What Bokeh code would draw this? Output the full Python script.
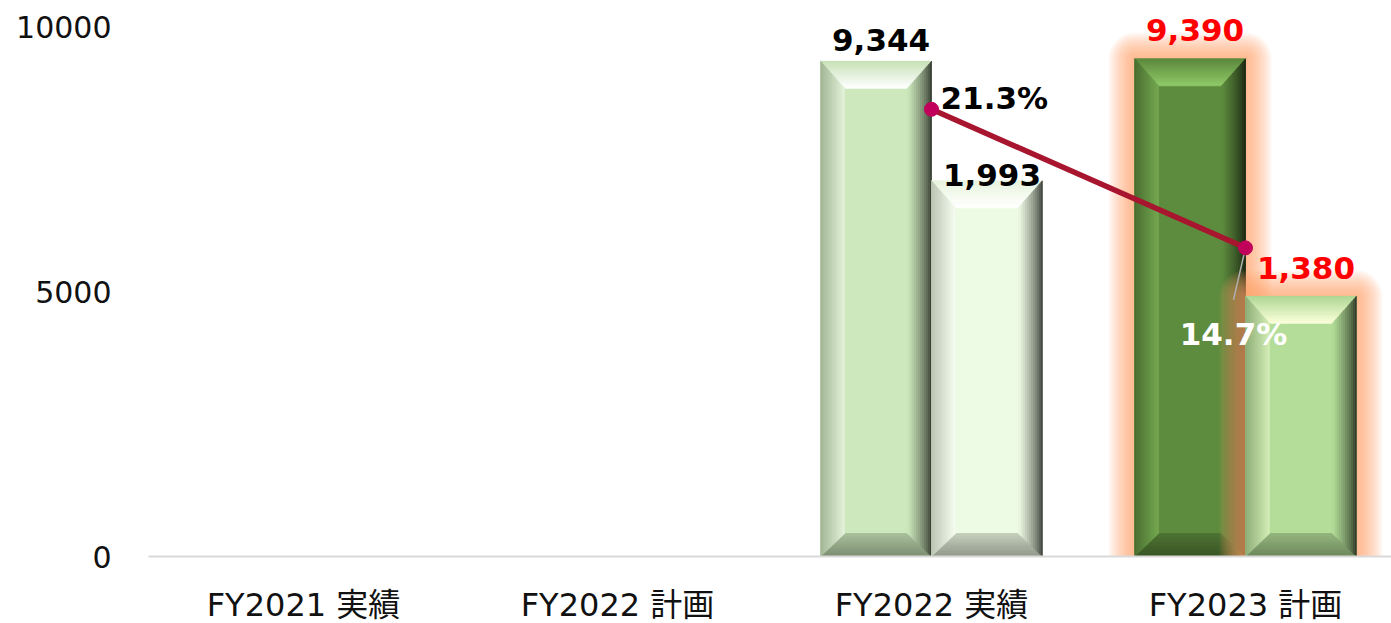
from bokeh.plotting import figure
from bokeh.models import Range1d, FixedTicker
from bokeh.core.properties import value
from bokeh.embed import file_html
from bokeh.resources import INLINE

# ---------------- data ----------------
categories = ["FY2021 実績", "FY2022 計画", "FY2022 実績", "FY2023 計画"]
sales = [None, None, 9344, 9390]          # left bars (primary axis)
profit = [None, None, 1993, 1380]         # right bars (hidden secondary axis)
margin_pct = [None, None, 21.3, 14.7]     # line (hidden percent axis)
y_ticks = [0, 5000, 10000]

# ---------------- styles / layout ----------------
sales_colors = [None, None, "#cde8bc", "#5e8c3e"]
profit_colors = [None, None, "#eefbe4", "#b3dd98"]
sales_label_colors = [None, None, "#000000", "#ff0000"]
profit_label_colors = [None, None, "#000000", "#ff0000"]
glow = [False, False, False, True]
sales_label_dy = [0, 0, -21, -29]
profit_label_dy = [0, 0, -6, -28]

LEFT, TOP = 148, 8
FRAME_W, FRAME_H = 1391 - 148, 548
BOTTOM = 67
PX_X = 314.0
X0 = 2.0 / PX_X
X1 = X0 + FRAME_W / PX_X
Y_END = 10340.0
PROFIT_END = 2907.0
PCT_END = 26.1
BW = 0.353
BEV_X_PX, BEV_TOP_PX, BEV_BOT_PX = 24.0, 27.0, 23.0
FONT_NUM = "DejaVu Sans"
FONT_CAT = "DejaVu Sans, Noto Sans CJK JP"
# glow layers: (expansion px, alpha)
GLOW_LAYERS = [(e, 0.085) for e in range(2, 28, 2)]
GLOW_COLOR = "#ffa868"

WHITE = (255, 255, 255)


def hex2rgb(h):
    return tuple(int(h[i:i + 2], 16) for i in (1, 3, 5))


def rgb2hex(c):
    return "#%02x%02x%02x" % tuple(int(round(max(0, min(255, v)))) for v in c)


def mix(a, b, t):
    return tuple(a[i] + (b[i] - a[i]) * t for i in range(3))


def scale(a, f):
    return tuple(min(255, v * f) for v in a)


def bevel(x0, x1, top, face_hex, dx, dyt, dyb, n=12):
    c = hex2rgb(face_hex)
    light = mix(scale(c, 1.4), WHITE, 0.1)
    xs, ys, cols = [], [], []
    for k in range(n):
        t0, t1 = k / n, (k + 1) / n
        tm = (t0 + t1) / 2
        # top face
        xs.append([x0 + t0 * dx, x1 - t0 * dx, x1 - t1 * dx, x0 + t1 * dx])
        ys.append([top - t0 * dyt, top - t0 * dyt, top - t1 * dyt, top - t1 * dyt])
        cols.append(rgb2hex(mix(scale(c, 0.97), light, tm)))
        # bottom face
        xs.append([x0 + t0 * dx, x1 - t0 * dx, x1 - t1 * dx, x0 + t1 * dx])
        ys.append([t0 * dyb, t0 * dyb, t1 * dyb, t1 * dyb])
        cols.append(rgb2hex(mix(scale(c, 0.6), scale(c, 0.82), tm)))
        # left face
        xs.append([x0 + t0 * dx, x0 + t1 * dx, x0 + t1 * dx, x0 + t0 * dx])
        ys.append([top - t0 * dyt, top - t1 * dyt, t1 * dyb, t0 * dyb])
        cols.append(rgb2hex(mix(scale(c, 0.78), mix(c, light, 0.45), tm)))
        # right face
        xs.append([x1 - t0 * dx, x1 - t1 * dx, x1 - t1 * dx, x1 - t0 * dx])
        ys.append([top - t0 * dyt, top - t1 * dyt, t1 * dyb, t0 * dyb])
        cols.append(rgb2hex(mix(scale(c, 0.2), c, tm ** 0.7)))
    return xs, ys, cols


p = figure(frame_width=FRAME_W, frame_height=FRAME_H,
           x_range=Range1d(X0, X1), y_range=Range1d(0, Y_END),
           output_backend="svg", toolbar_location=None,
           min_border_left=LEFT, min_border_right=0, min_border_top=TOP,
           min_border_bottom=BOTTOM)
p.extra_y_ranges = {"profit": Range1d(0, PROFIT_END), "pct": Range1d(0, PCT_END)}
p.xgrid.visible = False
p.ygrid.visible = False
p.outline_line_color = None
p.background_fill_color = "white"
p.border_fill_color = "white"

cx = [i + 0.5 for i in range(len(categories))]
px_y = {"default": FRAME_H / Y_END, "profit": FRAME_H / PROFIT_END, "pct": FRAME_H / PCT_END}


def draw_series(vals, colors, left_side, rname):
    ky = px_y[rname]
    kw = {} if rname == "default" else {"y_range_name": rname}
    for i, v in enumerate(vals):
        if v is None:
            continue
        x0 = cx[i] - BW if left_side else cx[i]
        x1 = cx[i] if left_side else cx[i] + BW
        if glow[i]:
            for e, a in sorted(GLOW_LAYERS, reverse=True):
                p.quad(left=[x0 - e / PX_X], right=[x1 + e / PX_X], bottom=[0], top=[v + e / ky],
                       fill_color=GLOW_COLOR, fill_alpha=a, line_color=None,
                       border_radius=(e, e, 0, 0), **kw)
        p.quad(left=[x0], right=[x1], bottom=[0], top=[v], fill_color=colors[i],
               line_color=None, **kw)
        xs, ys, cols = bevel(x0, x1, v, colors[i], BEV_X_PX / PX_X,
                             BEV_TOP_PX / ky, BEV_BOT_PX / ky)
        p.patches(xs=xs, ys=ys, fill_color=cols, line_color=cols, line_width=0.8, **kw)


draw_series(sales, sales_colors, True, "default")
draw_series(profit, profit_colors, False, "profit")

# ratio line
li = [i for i, v in enumerate(margin_pct) if v is not None]
lx = [cx[i] for i in li]
ly = [margin_pct[i] for i in li]
p.line(lx, ly, y_range_name="pct", line_color="#a8152e", line_width=5.5)

# leader line for last label
last = li[-1]
p.segment(x0=[cx[last]], y0=[margin_pct[last]],
          x1=[cx[last] - 12 / PX_X], y1=[margin_pct[last] - 52 / px_y["pct"]],
          y_range_name="pct", line_color="#b0b0b0", line_width=1.5)

p.scatter(lx, ly, y_range_name="pct", size=14, marker="circle",
          fill_color="#c0005a", line_color="#c0005a")

# value labels
si = [i for i, v in enumerate(sales) if v is not None]
p.text(x=[cx[i] - BW / 2 for i in si], y=[sales[i] for i in si],
       text=[f"{sales[i]:,}" for i in si],
       text_color=[sales_label_colors[i] for i in si],
       text_font=value(FONT_NUM), text_font_style="bold", text_font_size="31px",
       text_align="center", text_baseline="alphabetic",
       x_offset=5, y_offset=[sales_label_dy[i] for i in si])

pi = [i for i, v in enumerate(profit) if v is not None]
p.text(x=[cx[i] + BW / 2 for i in pi], y=[profit[i] for i in pi],
       text=[f"{profit[i]:,}" for i in pi],
       text_color=[profit_label_colors[i] for i in pi],
       text_font=value(FONT_NUM), text_font_style="bold", text_font_size="31px",
       text_align="center", text_baseline="alphabetic",
       x_offset=5, y_offset=[profit_label_dy[i] for i in pi], y_range_name="profit")

first = li[0]
p.text(x=[cx[first]], y=[margin_pct[first]], text=[f"{margin_pct[first]}%"],
       text_color="#000000", text_font=value(FONT_NUM), text_font_style="bold",
       text_font_size="31px", text_align="left", text_baseline="alphabetic",
       x_offset=9, y_offset=-11, y_range_name="pct")
p.text(x=[cx[last]], y=[margin_pct[last]], text=[f"{margin_pct[last]}%"],
       text_color="#ffffff", text_font=value(FONT_NUM), text_font_style="bold",
       text_font_size="31px", text_align="center", text_baseline="alphabetic",
       x_offset=-12, y_offset=86, y_range_name="pct")

# axes
p.xaxis.ticker = FixedTicker(ticks=cx)
p.xaxis.major_label_overrides = {cx[i]: categories[i] for i in range(len(categories))}
p.xaxis.axis_line_color = "#d9d9d9"
p.xaxis.axis_line_width = 2
p.xaxis.major_tick_line_color = None
p.xaxis.minor_tick_line_color = None
p.xaxis.major_label_text_font = FONT_CAT
p.xaxis.major_label_text_font_size = "32px"
p.xaxis.major_label_text_color = "#111111"
p.xaxis.major_label_standoff = 23

p.yaxis.ticker = FixedTicker(ticks=y_ticks)
p.yaxis.axis_line_color = None
p.yaxis.major_tick_line_color = None
p.yaxis.minor_tick_line_color = None
p.yaxis.major_label_text_font = FONT_NUM
p.yaxis.major_label_text_font_size = "30px"
p.yaxis.major_label_text_color = "#111111"
p.yaxis.major_label_standoff = 31

open("out.html", "w").write(file_html(p, INLINE))
